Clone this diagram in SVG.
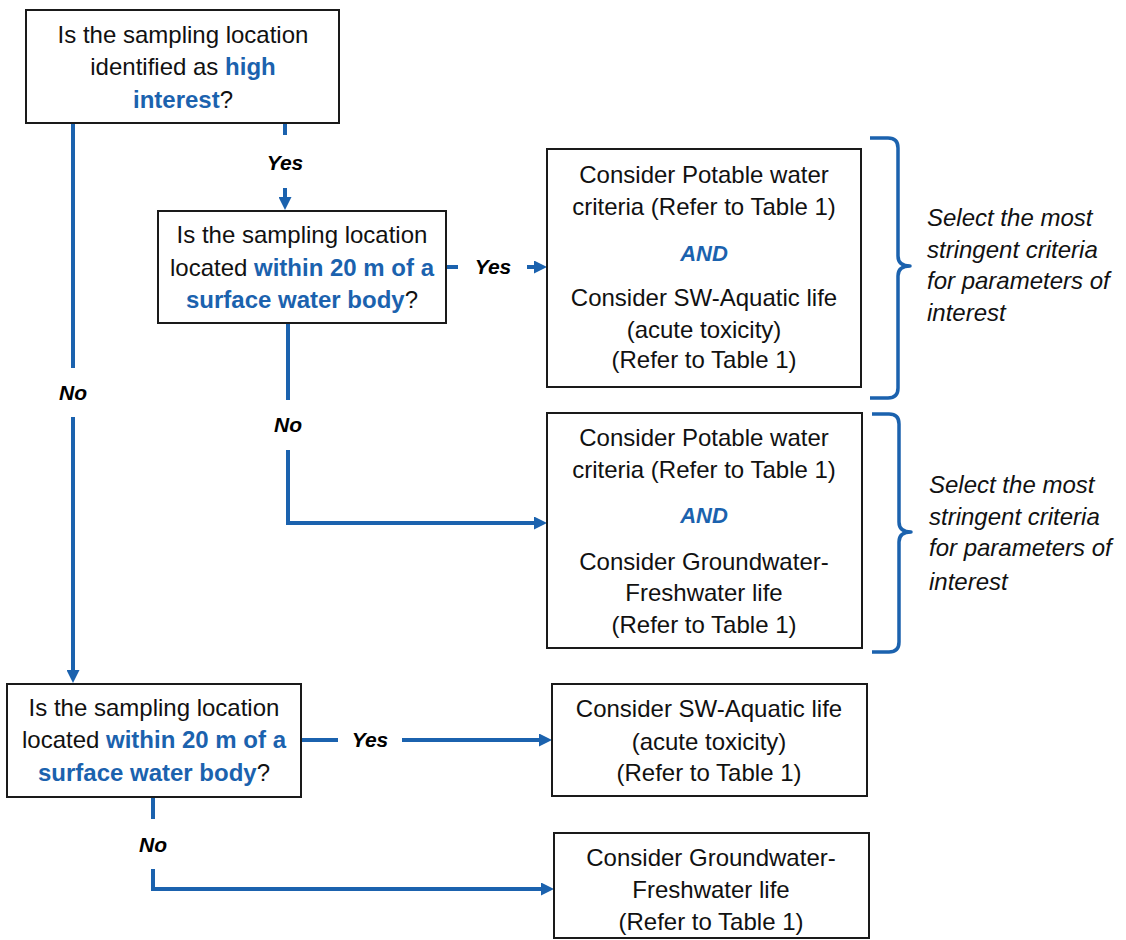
<svg xmlns="http://www.w3.org/2000/svg" width="1126" height="940" viewBox="0 0 1126 940">
<style>
.box{fill:#fff;stroke:#1a1a1a;stroke-width:2}
.t{font-family:"Liberation Sans",Arial,sans-serif;font-size:24px;fill:#111;text-anchor:middle}
.b{font-weight:bold;fill:#1B62AE}
.lbl{font-family:"Liberation Sans",Arial,sans-serif;font-size:21px;font-weight:bold;font-style:italic;fill:#000;text-anchor:middle}
.and{font-family:"Liberation Sans",Arial,sans-serif;font-size:22px;font-weight:bold;font-style:italic;fill:#1B62AE;text-anchor:middle}
.side{font-family:"Liberation Sans",Arial,sans-serif;font-size:24px;font-style:italic;fill:#111}
.c{fill:none;stroke:#1B62AE;stroke-width:4}
.br{fill:none;stroke:#1B62AE;stroke-width:3.5;stroke-linejoin:round}
</style>
<defs>
<marker id="ah" viewBox="0 0 13 13" refX="3" refY="6.5" markerWidth="13" markerHeight="13" markerUnits="userSpaceOnUse" orient="auto">
<path d="M0,0 L13,6.5 L0,13 z" fill="#1B62AE"/>
</marker>
</defs>
<rect width="1126" height="940" fill="#fff"/>

<g id="connectors">
<line class="c" x1="285" y1="123" x2="285" y2="135"/>
<line class="c" x1="285" y1="188" x2="285" y2="200" marker-end="url(#ah)"/>
<text class="lbl" x="285" y="170">Yes</text>

<line class="c" x1="73" y1="123" x2="73" y2="368"/>
<line class="c" x1="73" y1="417" x2="73" y2="673" marker-end="url(#ah)"/>
<text class="lbl" x="73" y="400">No</text>

<line class="c" x1="446" y1="267" x2="458" y2="267"/>
<line class="c" x1="527" y1="267" x2="537" y2="267" marker-end="url(#ah)"/>
<text class="lbl" x="493" y="274">Yes</text>

<line class="c" x1="288" y1="323" x2="288" y2="400"/>
<path class="c" d="M288,450 V523 H537" marker-end="url(#ah)"/>
<text class="lbl" x="288" y="432">No</text>

<line class="c" x1="301" y1="740" x2="338" y2="740"/>
<line class="c" x1="402" y1="740" x2="542" y2="740" marker-end="url(#ah)"/>
<text class="lbl" x="370" y="747">Yes</text>

<line class="c" x1="153" y1="797" x2="153" y2="819"/>
<path class="c" d="M153,869 V889 H544" marker-end="url(#ah)"/>
<text class="lbl" x="153" y="852">No</text>
</g>

<g id="n1">
<rect class="box" x="26" y="10" width="313" height="113"/>
<text class="t" x="183" y="43">Is the sampling location</text>
<text class="t" x="183" y="75">identified as <tspan class="b">high</tspan></text>
<text class="t" x="183" y="108"><tspan class="b">interest</tspan>?</text>
</g>

<g id="n2">
<rect class="box" x="158" y="211" width="288" height="112"/>
<text class="t" x="302" y="243">Is the sampling location</text>
<text class="t" x="302" y="276">located <tspan class="b">within 20 m of a</tspan></text>
<text class="t" x="302" y="308"><tspan class="b">surface water body</tspan>?</text>
</g>

<g id="n3">
<rect class="box" x="547" y="149" width="314" height="238"/>
<text class="t" x="704" y="183">Consider Potable water</text>
<text class="t" x="704" y="215">criteria (Refer to Table 1)</text>
<text class="and" x="704" y="261">AND</text>
<text class="t" x="704" y="306">Consider SW-Aquatic life</text>
<text class="t" x="704" y="338">(acute toxicity)</text>
<text class="t" x="704" y="368">(Refer to Table 1)</text>
</g>

<g id="n5">
<rect class="box" x="547" y="413" width="315" height="235"/>
<text class="t" x="704" y="446">Consider Potable water</text>
<text class="t" x="704" y="478">criteria (Refer to Table 1)</text>
<text class="and" x="704" y="523">AND</text>
<text class="t" x="704" y="570">Consider Groundwater-</text>
<text class="t" x="704" y="601">Freshwater life</text>
<text class="t" x="704" y="633">(Refer to Table 1)</text>
</g>

<g id="brace1">
<path class="br" d="M870,138 H888 Q898,138 898,148 V256 Q898,266 910,266 Q898,266 898,276 V388 Q898,398 888,398 H870"/>
<text class="side" x="927" y="226">Select the most</text>
<text class="side" x="927" y="258">stringent criteria</text>
<text class="side" x="927" y="289">for parameters of</text>
<text class="side" x="927" y="321">interest</text>
</g>

<g id="brace2">
<path class="br" d="M872,414 H889 Q899,414 899,424 V522 Q899,532 911,532 Q899,532 899,542 V642 Q899,652 889,652 H872"/>
<text class="side" x="929" y="493">Select the most</text>
<text class="side" x="929" y="525">stringent criteria</text>
<text class="side" x="929" y="556">for parameters of</text>
<text class="side" x="929" y="590">interest</text>
</g>

<g id="n4">
<rect class="box" x="7" y="684" width="294" height="113"/>
<text class="t" x="154" y="716">Is the sampling location</text>
<text class="t" x="154" y="748">located <tspan class="b">within 20 m of a</tspan></text>
<text class="t" x="154" y="781"><tspan class="b">surface water body</tspan>?</text>
</g>

<g id="n6">
<rect class="box" x="552" y="684" width="315" height="112"/>
<text class="t" x="709" y="717">Consider SW-Aquatic life</text>
<text class="t" x="709" y="750">(acute toxicity)</text>
<text class="t" x="709" y="781">(Refer to Table 1)</text>
</g>

<g id="n7">
<rect class="box" x="554" y="833" width="315" height="105"/>
<text class="t" x="711" y="866">Consider Groundwater-</text>
<text class="t" x="711" y="898">Freshwater life</text>
<text class="t" x="711" y="930">(Refer to Table 1)</text>
</g>
</svg>
